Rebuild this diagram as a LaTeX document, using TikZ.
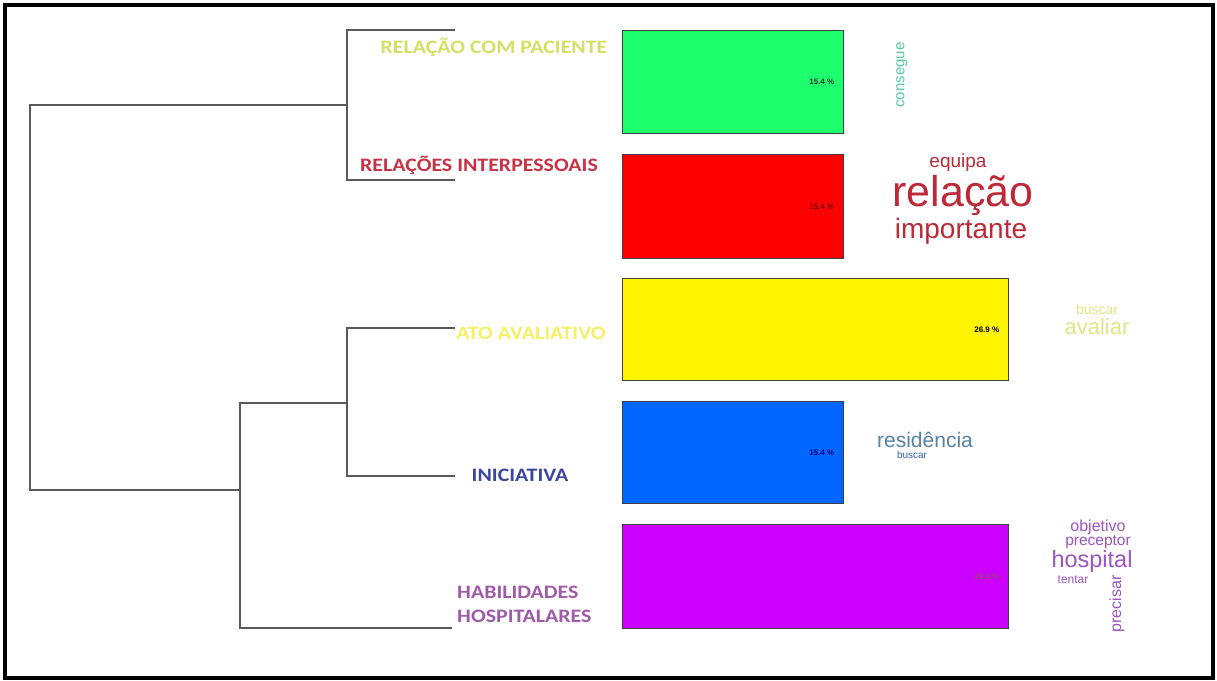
\documentclass[tikz,border=0pt]{standalone}
\usepackage{fontspec}
\setmainfont{Liberation Sans}
\newfontfamily\labelfont{Carlito}
\begin{document}
\begin{tikzpicture}[x=1pt,y=-1pt,
  tree/.style={draw=black!65, line width=1.6pt},
  bar/.style={draw=black!75, line width=1.4pt, anchor=north west, inner sep=0pt},
  pct/.style={font=\fontsize{8}{9}\selectfont\bfseries, text=black!80, anchor=east, inner sep=0pt, xshift=-10pt},
  cls/.style={font=\labelfont\bfseries\fontsize{19}{21}\selectfont, inner sep=0pt, xscale=1.15},
  word/.style={inner sep=0pt}
]
\definecolor{cGreen}{RGB}{30,255,110}
\definecolor{cRed}{RGB}{255,0,0}
\definecolor{cYellow}{RGB}{255,245,0}
\definecolor{cBlue}{RGB}{0,102,255}
\definecolor{cPurple}{RGB}{204,0,255}
\definecolor{tGreen}{RGB}{210,224,100}
\definecolor{tRed}{RGB}{200,50,70}
\definecolor{tYellow}{RGB}{245,240,100}
\definecolor{tBlue}{RGB}{60,70,160}
\definecolor{tPurple}{RGB}{160,90,170}
\definecolor{wTeal}{RGB}{90,200,160}
\definecolor{wRed}{RGB}{190,40,55}
\definecolor{wYellow}{RGB}{222,232,130}
\definecolor{wBlue}{RGB}{85,130,165}
\definecolor{wBlue2}{RGB}{50,90,180}
\definecolor{wPurple}{RGB}{155,85,190}

% page and frame
\useasboundingbox (0,0) rectangle (1217,680);
\fill[white] (0,0) rectangle (1217,680);
\draw[line width=3.5pt] (5,5) rectangle (1213,678);

% dendrogram leaves and joints
\coordinate (l1) at (455,30);
\coordinate (l2) at (455,180);
\coordinate (l3) at (455,328);
\coordinate (l4) at (455,476);
\coordinate (l5) at (452,628);
\coordinate (j12) at (347,105);
\coordinate (j34) at (347,403);
\coordinate (j345) at (240,490);
\coordinate (root) at (30,105);

\draw[tree] (l1) -| (j12) |- (l2);
\draw[tree] (l3) -| (j34) |- (l4);
\draw[tree] (j34) -| (j345) |- (l5);
\draw[tree] (j12) -- (root) |- (j345);

% class labels
\node[cls, text=tGreen] (n1) at (494,47) {RELAÇÃO COM PACIENTE};
\node[cls, text=tRed] (n2) at (479,165) {RELAÇÕES INTERPESSOAIS};
\node[cls, text=tYellow] (n3) at (531,333) {ATO AVALIATIVO};
\node[cls, text=tBlue] (n4) at (520,475) {INICIATIVA};
\node[cls, text=tPurple, align=left, anchor=west, font=\labelfont\bfseries\fontsize{19}{24}\selectfont] (n5) at (457,604) {HABILIDADES\\HOSPITALARES};

% bars
\node[bar, fill=cGreen, minimum width=221pt, minimum height=103pt] (b1) at (622,30) {};
\node[bar, fill=cRed, minimum width=221pt, minimum height=104pt] (b2) at (622,154) {};
\node[bar, fill=cYellow, minimum width=386pt, minimum height=102pt] (b3) at (622,278) {};
\node[bar, fill=cBlue, minimum width=221pt, minimum height=102pt] (b4) at (622,401) {};
\node[bar, fill=cPurple, minimum width=386pt, minimum height=104pt] (b5) at (622,524) {};

\node[pct] (p1) at (b1.east) {15.4 \%};
\node[pct, text=black!55!red] (p2) at (b2.east) {15.4 \%};
\node[pct, text=black] (p3) at (b3.east) {26.9 \%};
\node[pct, text=black!55!blue] (p4) at (b4.east) {15.4 \%};
\node[pct, text=black!45!magenta] (p5) at (b5.east) {26.9 \%};

% word clouds
\node[word, text=wTeal, rotate=90, font=\fontsize{15}{16}\selectfont] (w1) at (902,75) {consegue};

\node[word, text=wRed, font=\fontsize{19}{20}\selectfont] (w2a) at (958,163) {equipa};
\node[word, text=wRed, font=\fontsize{43}{44}\selectfont] (w2b) at (963,195) {relação};
\node[word, text=wRed, font=\fontsize{28}{29}\selectfont] (w2c) at (961,231) {importante};

\node[word, text=wYellow, font=\fontsize{14}{15}\selectfont] (w3a) at (1097,309) {buscar};
\node[word, text=wYellow, font=\fontsize{22}{23}\selectfont] (w3b) at (1097,327) {avaliar};

\node[word, text=wBlue, font=\fontsize{21}{22}\selectfont] (w4a) at (925,440) {residência};
\node[word, text=wBlue2, font=\fontsize{10}{11}\selectfont] (w4b) at (912,455) {buscar};

\node[word, text=wPurple, font=\fontsize{16}{17}\selectfont] (w5a) at (1098,527) {objetivo};
\node[word, text=wPurple, font=\fontsize{15.5}{17}\selectfont] (w5b) at (1098,542) {preceptor};
\node[word, text=wPurple, font=\fontsize{23.5}{25}\selectfont] (w5c) at (1092,561) {hospital};
\node[word, text=wPurple, font=\fontsize{12}{13}\selectfont] (w5d) at (1073,580) {tentar};
\node[word, text=wPurple, rotate=90, font=\fontsize{16}{17}\selectfont] (w5e) at (1117,604) {precisar};
\end{tikzpicture}
\end{document}
